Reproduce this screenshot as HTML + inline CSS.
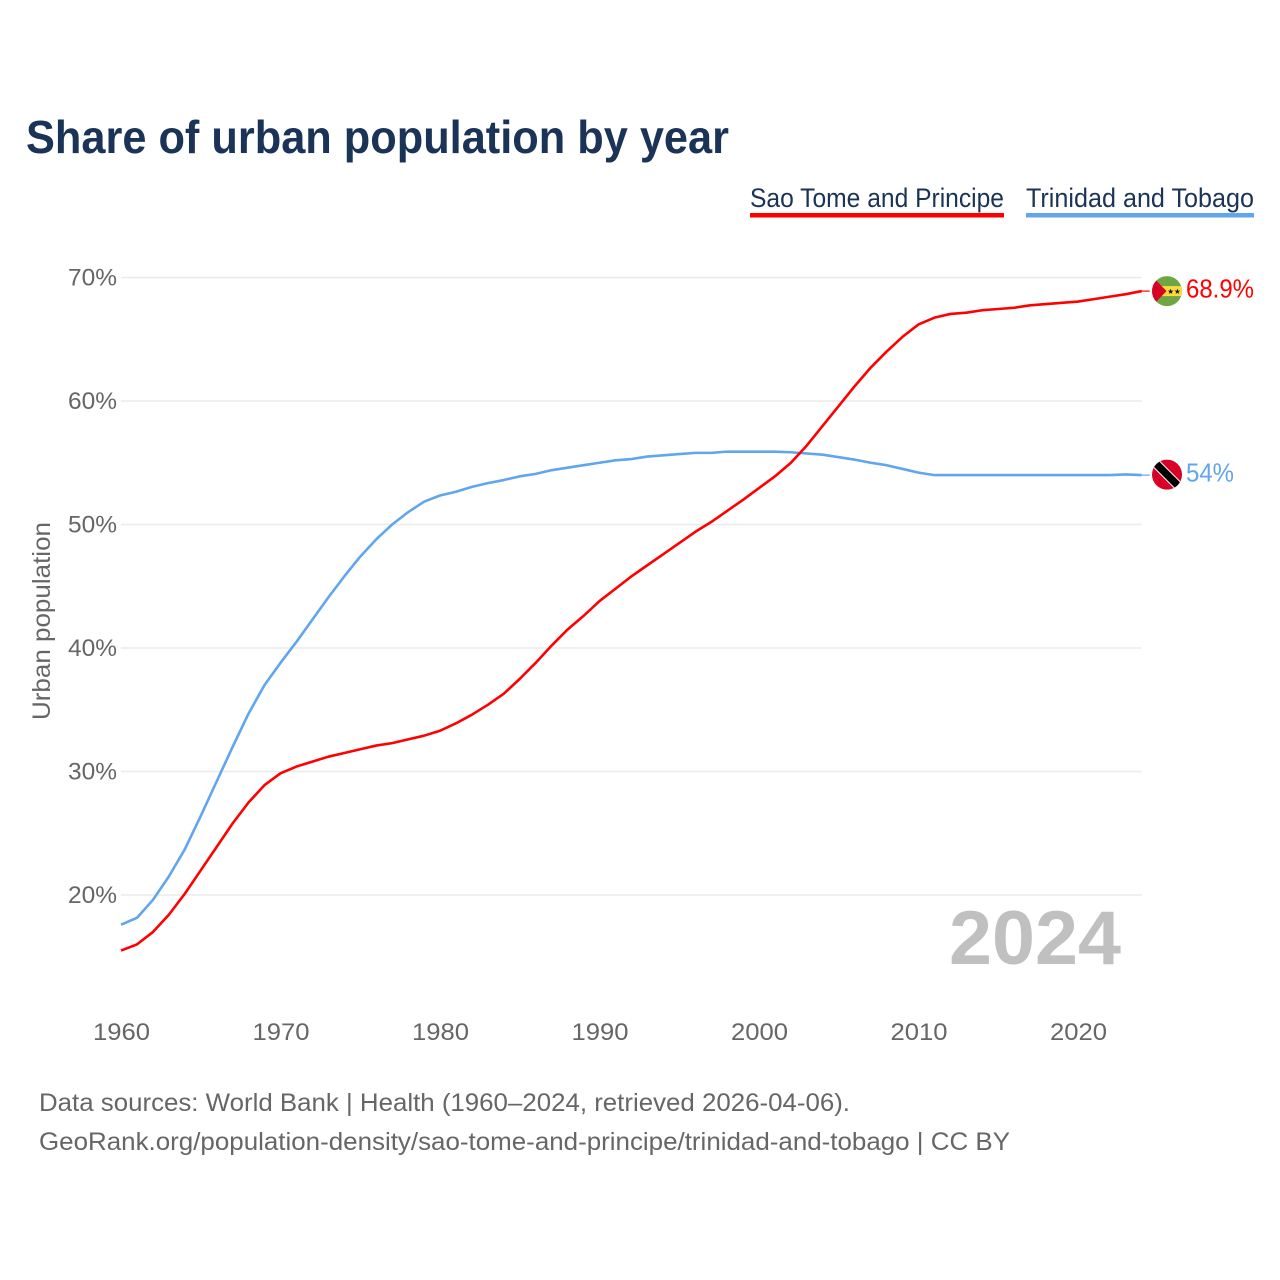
<!DOCTYPE html>
<html lang="en">
<head>
<meta charset="utf-8">
<title>Share of urban population by year</title>
<style>
html,body{margin:0;padding:0;background:#fff;}
svg{display:block;}
text{font-family:"Liberation Sans",sans-serif;}
</style>
</head>
<body>
<svg id="chart" xmlns="http://www.w3.org/2000/svg" width="1280" height="1280" viewBox="0 0 1280 1280">
  <defs>
    <clipPath id="clip-stp"><circle cx="0" cy="0" r="15"/></clipPath>
    <clipPath id="clip-tt"><circle cx="0" cy="0" r="15"/></clipPath>
  </defs>
  <rect x="0" y="0" width="1280" height="1280" fill="#fff"/>
  <text x="26" y="153" font-size="46" font-weight="700" fill="#1a3356" textLength="703" lengthAdjust="spacingAndGlyphs">Share of urban population by year</text>

  <g>
    <g>
      <text x="750" y="207" font-size="26.5" fill="#1a3356" textLength="254" lengthAdjust="spacingAndGlyphs">Sao Tome and Principe</text>
      <rect x="750" y="213" width="254" height="4.5" fill="#ff0000"/>
    </g>
    <g>
      <text x="1026" y="207" font-size="26.5" fill="#1a3356" textLength="228" lengthAdjust="spacingAndGlyphs">Trinidad and Tobago</text>
      <rect x="1026" y="213" width="228" height="4.5" fill="#60a5ee"/>
    </g>
  </g>

  <g id="grid"></g>
  <g id="y-ticks"></g>
  <g id="x-ticks"></g>

  <text transform="translate(50,621) rotate(-90)" text-anchor="middle" font-size="25" fill="#666" textLength="198" lengthAdjust="spacingAndGlyphs">Urban population</text>

  <text x="949" y="964" font-size="76" font-weight="700" fill="#c0c0c0" textLength="172" lengthAdjust="spacingAndGlyphs">2024</text>

  <g id="series"></g>

  <g id="flag-stp">
    <g clip-path="url(#clip-stp)">
      <rect x="-15" y="-15" width="30" height="30" fill="#6fa644"/>
      <rect x="-15" y="-5" width="30" height="10" fill="#ffd83d"/>
      <polygon points="-15,-15 -0.5,0 -15,15" fill="#d80027"/>
      <text x="7" y="3" font-size="7.5" text-anchor="middle" fill="#111" style="font-family:'DejaVu Sans',sans-serif">★★</text>
    </g>
  </g>
  <g id="flag-tt">
    <g clip-path="url(#clip-tt)">
      <rect x="-15" y="-15" width="30" height="30" fill="#d80027"/>
      <line x1="-15" y1="-15" x2="15" y2="15" stroke="#fff" stroke-width="9.5"/>
      <line x1="-15" y1="-15" x2="15" y2="15" stroke="#000" stroke-width="7.5"/>
    </g>
  </g>

  <text id="label-stp" x="1186" font-size="26" fill="#ff0000" textLength="68" lengthAdjust="spacingAndGlyphs">68.9%</text>
  <text id="label-tt" x="1186" font-size="26" fill="#60a5ee" textLength="48" lengthAdjust="spacingAndGlyphs">54%</text>

  <g>
    <text x="39" y="1111" font-size="25" fill="#666" textLength="811" lengthAdjust="spacingAndGlyphs">Data sources: World Bank | Health (1960–2024, retrieved 2026-04-06).</text>
    <text x="39" y="1150" font-size="25" fill="#666" textLength="971" lengthAdjust="spacingAndGlyphs">GeoRank.org/population-density/sao-tome-and-principe/trinidad-and-tobago | CC BY</text>
  </g>
</svg>
<script>
const firstYear = 1960;
const xTickLabels = [1960, 1970, 1980, 1990, 2000, 2010, 2020];
const yTickLabels = [70, 60, 50, 40, 30, 20];
const saoTomeValues = [
  15.5, 16.0, 17.0, 18.4, 20.1, 22.0, 23.9, 25.8, 27.5, 28.9,
  29.85, 30.4, 30.8, 31.2, 31.5, 31.8, 32.1, 32.3, 32.6, 32.9,
  33.3, 33.9, 34.6, 35.4, 36.3, 37.5, 38.8, 40.2, 41.5, 42.6,
  43.8, 44.8, 45.8, 46.7, 47.6, 48.5, 49.4, 50.2, 51.1, 52.0,
  52.95, 53.9, 55.0, 56.4, 58.0, 59.6, 61.2, 62.7, 64.0, 65.2,
  66.2, 66.75, 67.05, 67.15, 67.35, 67.45, 67.55, 67.75, 67.85, 67.95,
  68.05, 68.25, 68.45, 68.65, 68.9
];
const trinidadValues = [
  17.6, 18.15, 19.6, 21.5, 23.7, 26.4, 29.2, 32.0, 34.7, 37.0,
  38.8, 40.5, 42.3, 44.1, 45.8, 47.4, 48.8, 50.0, 51.0, 51.85,
  52.35, 52.65, 53.05, 53.35, 53.6, 53.9, 54.1, 54.4, 54.6, 54.8,
  55.0, 55.2, 55.3, 55.5, 55.6, 55.7, 55.8, 55.8, 55.9, 55.9,
  55.9, 55.9, 55.85, 55.75, 55.65, 55.45, 55.25, 55.0, 54.8, 54.5,
  54.2, 54.0, 54.0, 54.0, 54.0, 54.0, 54.0, 54.0, 54.0, 54.0,
  54.0, 54.0, 54.0, 54.05, 54.0
];

const NS = 'http://www.w3.org/2000/svg';
function xScale(year) { return 121 + (year - firstYear) * 15.95; }
function yScale(pct) { return 895 - (pct - 20) * 12.35; }
function pathFor(values) {
  return values.map(function (v, i) {
    return (i ? 'L' : 'M') + xScale(firstYear + i).toFixed(2) + ' ' + yScale(v).toFixed(2);
  }).join(' ');
}

const grid = document.getElementById('grid');
const yTicks = document.getElementById('y-ticks');
yTickLabels.forEach(function (t) {
  const line = document.createElementNS(NS, 'line');
  
  
  line.setAttribute('x1', 121);
  line.setAttribute('x2', 1142);
  line.setAttribute('y1', yScale(t));
  line.setAttribute('y2', yScale(t));
  line.setAttribute('stroke', '#ebebeb');
  line.setAttribute('stroke-width', '1.4');
  grid.appendChild(line);

  const label = document.createElementNS(NS, 'text');
  
  
  label.setAttribute('x', 68);
  label.setAttribute('y', yScale(t) + 8);
  label.setAttribute('font-size', '24');
  label.setAttribute('fill', '#666');
  label.setAttribute('textLength', '49');
  label.setAttribute('lengthAdjust', 'spacingAndGlyphs');
  label.textContent = t + '%';
  yTicks.appendChild(label);
});

const xTicks = document.getElementById('x-ticks');
xTickLabels.forEach(function (t) {
  const label = document.createElementNS(NS, 'text');
  
  
  label.setAttribute('x', xScale(t) - 28);
  label.setAttribute('y', 1040);
  label.setAttribute('font-size', '24');
  label.setAttribute('fill', '#666');
  label.setAttribute('textLength', '57');
  label.setAttribute('lengthAdjust', 'spacingAndGlyphs');
  label.textContent = String(t);
  xTicks.appendChild(label);
});

const seriesGroup = document.getElementById('series');

const blueLine = document.createElementNS(NS, 'path');


blueLine.setAttribute('d', pathFor(trinidadValues));
blueLine.setAttribute('fill', 'none');
blueLine.setAttribute('stroke', '#60a5ee');
blueLine.setAttribute('stroke-width', '2.6');
blueLine.setAttribute('stroke-linejoin', 'round');
seriesGroup.appendChild(blueLine);

const redLine = document.createElementNS(NS, 'path');


redLine.setAttribute('d', pathFor(saoTomeValues));
redLine.setAttribute('fill', 'none');
redLine.setAttribute('stroke', '#ff0000');
redLine.setAttribute('stroke-width', '2.6');
redLine.setAttribute('stroke-linejoin', 'round');
seriesGroup.appendChild(redLine);

const lastRed = yScale(saoTomeValues[saoTomeValues.length - 1]);
const lastBlue = yScale(trinidadValues[trinidadValues.length - 1]);
const lastX = xScale(firstYear + saoTomeValues.length - 1);

const redStub = document.createElementNS(NS, 'line');


redStub.setAttribute('x1', lastX);
redStub.setAttribute('x2', lastX + 8);
redStub.setAttribute('y1', lastRed);
redStub.setAttribute('y2', lastRed);
redStub.setAttribute('stroke', '#ff0000');
redStub.setAttribute('stroke-width', '1.2');
seriesGroup.appendChild(redStub);

const blueStub = document.createElementNS(NS, 'line');


blueStub.setAttribute('x1', lastX);
blueStub.setAttribute('x2', lastX + 8);
blueStub.setAttribute('y1', lastBlue);
blueStub.setAttribute('y2', lastBlue);
blueStub.setAttribute('stroke', '#60a5ee');
blueStub.setAttribute('stroke-width', '1.2');
seriesGroup.appendChild(blueStub);

document.getElementById('flag-stp').setAttribute('transform', 'translate(1167,' + lastRed + ')');
document.getElementById('flag-tt').setAttribute('transform', 'translate(1167,' + (lastBlue - 0.5) + ')');
document.getElementById('label-stp').setAttribute('y', lastRed + 6.5);
document.getElementById('label-tt').setAttribute('y', lastBlue + 6.5);
</script>
</body>
</html>
